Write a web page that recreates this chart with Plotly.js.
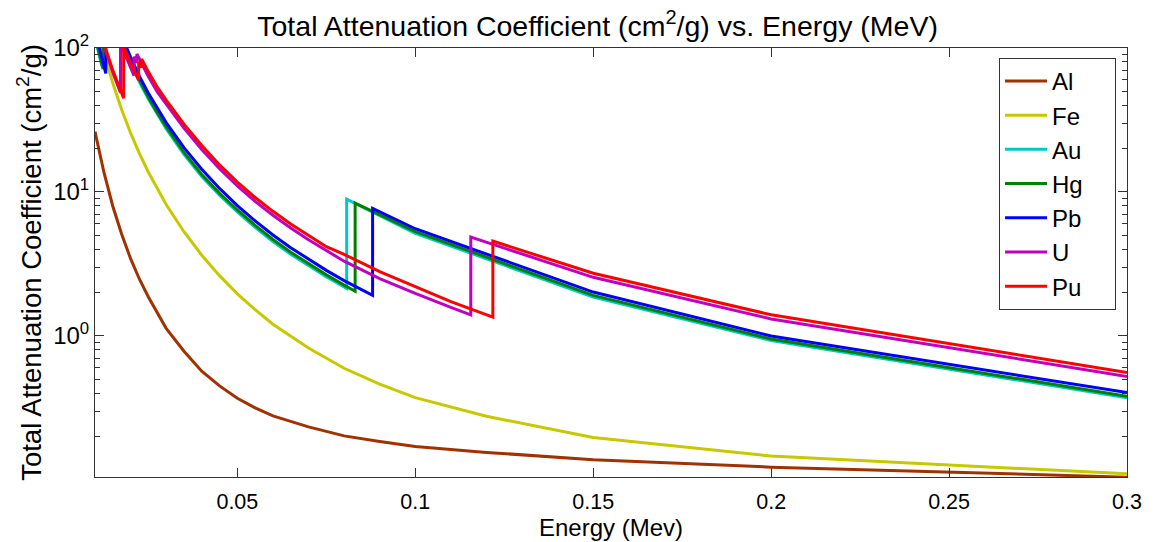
<!DOCTYPE html>
<html>
<head>
<meta charset="utf-8">
<script src="https://cdn.plot.ly/plotly-3.0.1.min.js"></script>
<style>html,body{margin:0;padding:0;background:#fff;}#chart{width:1156px;height:542px;}</style>
</head>
<body>
<div id="chart"></div>
<script>
// Energies (MeV) and total attenuation coefficients (cm^2/g)
const alE  = [0.01, 0.0125, 0.015, 0.0175, 0.02, 0.0225, 0.025, 0.0275, 0.03, 0.035, 0.04, 0.045, 0.05, 0.055, 0.06, 0.07, 0.08, 0.09, 0.1, 0.12, 0.15, 0.2, 0.3];
const alMu = [26.23, 13.7, 7.955, 5.08, 3.441, 2.474, 1.862, 1.432, 1.128, 0.781, 0.5685, 0.449, 0.3681, 0.316, 0.2778, 0.233, 0.2018, 0.1846, 0.1704, 0.1549, 0.1378, 0.1223, 0.1042];

const feE  = [0.01, 0.0125, 0.015, 0.0175, 0.02, 0.0225, 0.025, 0.0275, 0.03, 0.035, 0.04, 0.045, 0.05, 0.055, 0.06, 0.07, 0.08, 0.09, 0.1, 0.12, 0.15, 0.2, 0.3];
const feMu = [170.6, 93.4, 57.08, 37.2, 25.68, 18.46, 13.7, 10.47, 8.176, 5.29, 3.629, 2.62, 1.958, 1.519, 1.205, 0.822, 0.5952, 0.462, 0.3717, 0.276, 0.1964, 0.146, 0.1099];

const auE  = [0.01, 0.011919, 0.011919, 0.013734, 0.013734, 0.014353, 0.014353, 0.015, 0.0175, 0.02, 0.0225, 0.025, 0.0275, 0.03, 0.035, 0.04, 0.045, 0.05, 0.055, 0.06, 0.065, 0.07, 0.075, 0.08, 0.080725, 0.080725, 0.1, 0.15, 0.2, 0.3];
const auMu = [118.1, 74.75, 183.3, 129.0, 177.9, 160.1, 186.5, 168.3, 112.1, 78.81, 58.0, 44.2, 34.56, 27.53, 18.25, 12.78, 9.48, 7.256, 5.673, 4.528, 3.693, 3.064, 2.573, 2.185, 2.137, 8.904, 5.158, 1.859, 0.9276, 0.3718];

const hgE  = [0.01, 0.012284, 0.012284, 0.014209, 0.014209, 0.014839, 0.014839, 0.015, 0.0175, 0.02, 0.0225, 0.025, 0.0275, 0.03, 0.035, 0.04, 0.045, 0.05, 0.055, 0.06, 0.065, 0.07, 0.075, 0.08, 0.0831, 0.0831, 0.1, 0.15, 0.2, 0.3];
const hgMu = [121.9, 71.4, 175.0, 119.9, 166.0, 148.3, 172.0, 167.3, 115.5, 81.2, 59.75, 45.5, 35.57, 28.4, 18.8, 13.2, 9.77, 7.49, 5.856, 4.67, 3.809, 3.16, 2.653, 2.25, 2.04, 8.35, 5.30, 1.91, 0.95, 0.381];

const pbE  = [0.01, 0.013035, 0.013035, 0.0152, 0.0152, 0.015861, 0.015861, 0.0175, 0.02, 0.0225, 0.025, 0.0275, 0.03, 0.035, 0.04, 0.045, 0.05, 0.055, 0.06, 0.065, 0.07, 0.075, 0.08, 0.088005, 0.088005, 0.1, 0.15, 0.2, 0.3];
const pbMu = [130.6, 66.55, 162.2, 107.9, 148.5, 134.4, 154.8, 121.0, 86.36, 63.5, 48.55, 37.96, 30.32, 20.3, 14.36, 10.57, 8.041, 6.29, 5.021, 4.095, 3.395, 2.851, 2.419, 1.910, 7.683, 5.549, 2.014, 0.9985, 0.4031];

const uE   = [0.01, 0.0125, 0.015, 0.017166, 0.017166, 0.0175, 0.02, 0.020948, 0.020948, 0.021757, 0.021757, 0.0225, 0.025, 0.0275, 0.03, 0.035, 0.04, 0.045, 0.05, 0.055, 0.06, 0.065, 0.07, 0.075, 0.08, 0.09, 0.1, 0.11, 0.1156, 0.1156, 0.15, 0.2, 0.3];
const uMu  = [179.0, 104.7, 67.7, 48.9, 108.0, 103.0, 72.6, 64.3, 87.0, 79.0, 91.0, 83.4, 63.4, 49.6, 41.0, 27.8, 19.7, 14.5, 11.0, 8.60, 6.88, 5.61, 4.65, 3.90, 3.30, 2.50, 1.97, 1.575, 1.40, 4.85, 2.55, 1.31, 0.522];

const puE  = [0.01, 0.0125, 0.015, 0.018057, 0.018057, 0.02, 0.022266, 0.022266, 0.0225, 0.023097, 0.023097, 0.025, 0.0275, 0.03, 0.035, 0.04, 0.045, 0.05, 0.055, 0.06, 0.065, 0.07, 0.075, 0.08, 0.09, 0.1, 0.11, 0.1218, 0.1218, 0.15, 0.2, 0.3];
const puMu = [185.0, 108.0, 69.9, 44.8, 103.0, 78.9, 59.7, 80.5, 78.3, 73.2, 84.0, 68.3, 53.4, 43.5, 29.6, 21.0, 15.4, 11.7, 9.15, 7.33, 5.98, 4.96, 4.16, 3.68, 2.79, 2.2, 1.73, 1.35, 4.55, 2.72, 1.40, 0.556];

const names  = ['Al', 'Fe', 'Au', 'Hg', 'Pb', 'U', 'Pu'];
const colors = ['rgb(160,50,0)', 'rgb(200,200,0)', 'rgb(0,200,200)', 'rgb(0,128,0)', 'rgb(0,0,255)', 'rgb(191,0,191)', 'rgb(255,0,0)'];
const xs = [alE, feE, auE, hgE, pbE, uE, puE];
const ys = [alMu, feMu, auMu, hgMu, pbMu, uMu, puMu];

const xTickVals = [0.05, 0.1, 0.15, 0.2, 0.25, 0.3];
const xTickText = ['0.05', '0.1', '0.15', '0.2', '0.25', '0.3'];
const yTickVals = [1, 10, 100];
const yTickText = ['10<sup>0</sup>', '10<sup>1</sup>', '10<sup>2</sup>'];
const yMinorVals = [0.2,0.3,0.4,0.5,0.6,0.7,0.8,0.9,2,3,4,5,6,7,8,9,20,30,40,50,60,70,80,90];

// legend labels get a little trailing space so the legend box is as wide as the reference's
const legendPad = '\u00a0\u00a0\u00a0\u00a0';
const traces = names.map((n, i) => ({
  x: xs[i], y: ys[i], name: n + legendPad, type: 'scatter', mode: 'lines',
  line: {color: colors[i], width: 3}
}));

const font = 'Liberation Sans, Arial, Helvetica, sans-serif';
const axisColor = '#333';

const layout = {
  width: 1156, height: 542,
  margin: {l: 95, r: 29, t: 48, b: 65, pad: 0},
  paper_bgcolor: '#fff', plot_bgcolor: '#fff',
  font: {family: font, color: '#000', size: 20},
  title: {text: 'Total Attenuation Coefficient (cm<sup>2</sup>/g) vs. Energy (MeV)',
          font: {family: font, size: 28.5, color: '#000'},
          x: 0.487, xref: 'paper', xanchor: 'center', y: 0.952, yref: 'container', yanchor: 'middle'},
  xaxis: {
    range: [0.01, 0.3], tickmode: 'array', tickvals: xTickVals, ticktext: xTickText,
    ticks: 'inside', ticklen: 9, tickcolor: axisColor, tickwidth: 1,
    showline: true, linecolor: axisColor, linewidth: 1, mirror: 'ticks',
    showgrid: false, zeroline: false, ticklabelstandoff: 5,
    tickfont: {family: font, size: 21.5, color: '#000'},
    title: {text: 'Energy (Mev)', font: {family: font, size: 24, color: '#000'}, standoff: 0}
  },
  yaxis: {
    type: 'log', range: [Math.log10(0.1045), 2], tickmode: 'array', tickvals: yTickVals, ticktext: yTickText,
    ticks: 'inside', ticklen: 9, tickcolor: axisColor, tickwidth: 1,
    minor: {tickmode: 'array', tickvals: yMinorVals, ticks: 'inside', ticklen: 5, tickcolor: axisColor, tickwidth: 1},
    showline: true, linecolor: axisColor, linewidth: 1, mirror: 'ticks',
    showgrid: false, zeroline: false,
    tickfont: {family: font, size: 24, color: '#000'},
    title: {text: 'Total Attenuation Coefficient (cm<sup>2</sup>/g)', font: {family: font, size: 27.5, color: '#000'}, standoff: 3}
  },
  legend: {
    x: 0.876, xanchor: 'left', y: 0.977, yanchor: 'top',
    bgcolor: '#fff', bordercolor: axisColor, borderwidth: 1, itemwidth: 42,
    font: {family: font, size: 24, color: '#000'}
  },
  showlegend: true
};

Plotly.newPlot('chart', traces, layout, {staticPlot: true, displayModeBar: false});
</script>
</body>
</html>
